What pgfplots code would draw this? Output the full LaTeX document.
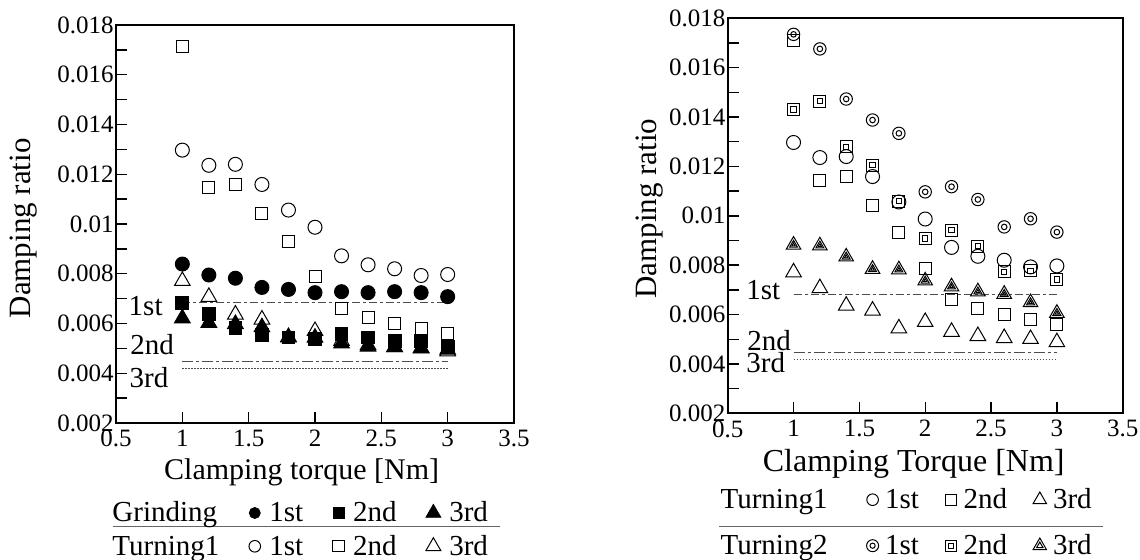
\documentclass[border=0pt]{standalone}
\usepackage{fontspec}
\setmainfont{Liberation Serif}
\usepackage{pgfplots}
\usepackage{pgfplotstable}
\pgfplotsset{compat=1.18}

% damping ratio vs clamping torque
\pgfplotstableread{
x   g1      g2      g3
1.0 0.00839 0.00684 0.00621
1.2 0.00795 0.00638 0.00603
1.4 0.00782 0.00583 0.00598
1.6 0.00745 0.00554 0.00585
1.8 0.00737 0.00544 0.00545
2.0 0.00724 0.00538 0.00543
2.2 0.00728 0.00558 0.00520
2.4 0.00724 0.00544 0.00507
2.6 0.00728 0.00531 0.00505
2.8 0.00724 0.00531 0.00500
3.0 0.00708 0.00507 0.00495
}\grinding

\pgfplotstableread{
x   t1      t2      t3
1.0 0.01297 0.01712 0.00771
1.2 0.01236 0.01145 0.00707
1.4 0.01240 0.01160 0.00636
1.6 0.01159 0.01043 0.00616
1.8 0.01056 0.00931 0.00544
2.0 0.00987 0.00787 0.00570
2.2 0.00872 0.00660 0.00530
2.4 0.00836 0.00624 0.00513
2.6 0.00820 0.00602 0.00505
2.8 0.00793 0.00578 0.00501
3.0 0.00797 0.00561 0.00488
}\turnone

\pgfplotstableread{
x   s1      s2      s3
1.0 0.01735 0.01431 0.00882
1.2 0.01676 0.01465 0.00879
1.4 0.01473 0.01280 0.00834
1.6 0.01388 0.01205 0.00784
1.8 0.01334 0.01059 0.00782
2.0 0.01097 0.00908 0.00737
2.2 0.01118 0.00942 0.00713
2.4 0.01066 0.00877 0.00693
2.6 0.00955 0.00773 0.00683
2.8 0.00988 0.00777 0.00649
3.0 0.00934 0.00742 0.00606
}\turntwo

\newcommand{\lblfont}{\fontsize{14.5}{17}\selectfont}

\pgfplotsset{
  damp/.style={
    scale only axis, anchor=south west, clip=false,
    xmin=0.5, xmax=3.5, ymin=0.002, ymax=0.018,
    xtick={0.5,1,1.5,2,2.5,3,3.5},
    ytick={0.002,0.004,0.006,0.008,0.01,0.012,0.014,0.016,0.018},
    minor y tick num=1,
    tick pos=left, tick align=inside,
    major tick length=5.5pt, minor tick length=5.5pt,
    every tick/.style={black, line width=0.7pt},
    axis line style={line width=1pt},
    scaled y ticks=false,
    /pgf/number format/assume math mode=true,
    yticklabel style={/pgf/number format/fixed, /pgf/number format/precision=3, inner xsep=1pt},
    tick label style={font=\fontsize{12.5}{14}\selectfont},
    legend columns=4, legend cell align=left,
  },
  pts/.style={only marks, black, line width=0.5pt, forget plot},
  ref1/.style={forget plot, black!70, line width=0.5pt, dash pattern=on 4pt off 1.5pt on 1.5pt off 1.5pt},
  ref2/.style={forget plot, black!70, line width=0.5pt, dash pattern=on 5.5pt off 1.5pt on 1.5pt off 1.5pt},
  ref3/.style={forget plot, black!70, line width=0.5pt, dash pattern=on 0.75pt off 0.75pt},
  legimg/.style={legend image code/.code={%
    \path[draw=none, fill=none] (-3pt,-1pt) rectangle (3pt,1pt);
    \draw plot[only marks] coordinates {(0pt,0pt)};}},
  legdbl/.style 2 args={legend image code/.code={%
    \path[draw=none, fill=none] (-3pt,-1pt) rectangle (3pt,1pt);
    \draw plot[only marks, mark size=#1] coordinates {(0pt,0pt)};
    \draw plot[only marks, mark size=#2] coordinates {(0pt,0pt)};}},
}

\begin{document}
\begin{tikzpicture}
\useasboundingbox (0,0) rectangle (570pt,279.5pt);

% left: grinding vs turning1
\begin{axis}[damp, at={(58pt,68pt)}, width=199pt, height=199pt,
  xlabel={Clamping torque [Nm]},
  every axis x label/.style={at={(axis description cs:0.4666,-0.1415)}, anchor=base, font=\fontsize{15}{18}\selectfont},
  ylabel={Damping ratio},
  every axis y label/.style={at={(axis description cs:-0.231,0.489)}, rotate=90, anchor=center, font=\fontsize{15.5}{18}\selectfont},
  legend style={draw=none, fill=none, inner sep=0pt, outer sep=0pt,
    at={(-0.0302,-0.1934)}, anchor=north west, row sep=3.65pt, font=\lblfont,
    nodes={inner sep=0pt, text height=11pt, text depth=2pt},
    /tikz/every odd column/.append style={column sep=4.25pt},
    /tikz/every even column/.append style={column sep=14.7pt}},
]
\addplot[pts, mark=o, mark size=3.5pt] table[x=x, y=t1] {\turnone};
\addplot[pts, mark=square, mark size=3pt] table[x=x, y=t2] {\turnone};
\addplot[pts, mark=triangle, mark size=4.5pt] table[x=x, y=t3] {\turnone};
\addplot[pts, mark=*, mark size=3.5pt] table[x=x, y=g1] {\grinding};
\addplot[pts, mark=square*, mark size=3.2pt] table[x=x, y=g2] {\grinding};
\addplot[pts, mark=triangle*, mark size=4.5pt] table[x=x, y=g3] {\grinding};

\addplot[ref1] coordinates {(1,0.00684) (3,0.00684)};
\addplot[ref2] coordinates {(1,0.00446) (3,0.00446)};
\addplot[ref3] coordinates {(1,0.00419) (3,0.00419)};

\node[anchor=base west, inner sep=0pt, font=\lblfont] at (axis cs:0.593,0.00634) {1st};
\node[anchor=base west, inner sep=0pt, font=\lblfont] at (axis cs:0.605,0.00477) {2nd};
\node[anchor=base west, inner sep=0pt, font=\lblfont] at (axis cs:0.600,0.00341) {3rd};

\draw[black!60, line width=0.7pt] (axis description cs:-0.0075,-0.2595) -- (axis description cs:0.9648,-0.2595);

\addlegendimage{empty legend}\addlegendentry{Grinding}
\addlegendimage{only marks, black, mark=*, mark size=2.75pt, legimg}\addlegendentry{1st}
\addlegendimage{only marks, black, mark=square*, mark size=2.8pt, legimg}\addlegendentry{2nd}
\addlegendimage{only marks, black, mark=triangle*, mark size=4.3pt, legimg}\addlegendentry{3rd}
\addlegendimage{empty legend}\addlegendentry{Turning1}
\addlegendimage{only marks, black, line width=0.5pt, mark=o, mark size=2.9pt, legimg}\addlegendentry{1st}
\addlegendimage{only marks, black, line width=0.5pt, mark=square, mark size=2.8pt, legimg}\addlegendentry{2nd}
\addlegendimage{only marks, black, line width=0.5pt, mark=triangle, mark size=4.3pt, legimg}\addlegendentry{3rd}
\end{axis}

% right: turning1 vs turning2
\begin{axis}[damp, at={(363.85pt,72.85pt)}, width=197.5pt, height=197.5pt,
  xlabel={Clamping Torque [Nm]},
  every axis x label/.style={at={(axis description cs:0.471,-0.1478)}, anchor=base, font=\fontsize{16}{19}\selectfont},
  ylabel={Damping ratio},
  every axis y label/.style={at={(axis description cs:-0.197,0.518)}, rotate=90, anchor=center, font=\fontsize{15.5}{18}\selectfont},
  legend style={draw=none, fill=none, inner sep=0pt, outer sep=0pt,
    at={(-0.0347,-0.1858)}, anchor=north west, row sep=10pt, font=\lblfont,
    nodes={inner sep=0pt, text height=11pt, text depth=2pt},
    /tikz/every odd column/.append style={column sep=3.3pt},
    /tikz/every even column/.append style={column sep=13pt}},
]
\addplot[pts, mark=o, mark size=3.5pt] table[x=x, y=t1] {\turnone};
\addplot[pts, mark=square, mark size=3pt] table[x=x, y=t2] {\turnone};
\addplot[pts, mark=triangle, mark size=4.5pt] table[x=x, y=t3] {\turnone};
\addplot[pts, mark=o, mark size=3.1pt] table[x=x, y=s1] {\turntwo};
\addplot[pts, mark=o, mark size=1.4pt] table[x=x, y=s1] {\turntwo};
\addplot[pts, mark=square, mark size=3pt] table[x=x, y=s2] {\turntwo};
\addplot[pts, mark=square, mark size=1.3pt] table[x=x, y=s2] {\turntwo};
\addplot[pts, mark=triangle, mark size=4.2pt] table[x=x, y=s3] {\turntwo};
\addplot[pts, mark=triangle, mark size=2.3pt] table[x=x, y=s3] {\turntwo};
\addplot[pts, mark=triangle, mark size=1pt] table[x=x, y=s3] {\turntwo};

\addplot[ref1] coordinates {(1,0.00683) (3,0.00683)};
\addplot[ref2] coordinates {(1,0.00446) (3,0.00446)};
\addplot[ref3] coordinates {(1,0.00419) (3,0.00419)};

\node[anchor=base west, inner sep=0pt, font=\lblfont] at (axis cs:0.639,0.00659) {1st};
\node[anchor=base west, inner sep=0pt, font=\lblfont] at (axis cs:0.647,0.00454) {2nd};
\node[anchor=base west, inner sep=0pt, font=\lblfont] at (axis cs:0.639,0.00364) {3rd};

\draw[black!60, line width=0.7pt] (axis description cs:-0.022,-0.2866) -- (axis description cs:0.9494,-0.2866);

\addlegendimage{empty legend}\addlegendentry[text width=60pt]{Turning1}
\addlegendimage{only marks, black, line width=0.5pt, mark=o, mark size=2.9pt, legimg}\addlegendentry{1st}
\addlegendimage{only marks, black, line width=0.5pt, mark=square, mark size=2.75pt, legimg}\addlegendentry{2nd}
\addlegendimage{only marks, black, line width=0.5pt, mark=triangle, mark size=3.85pt, legimg}\addlegendentry{3rd}
\addlegendimage{empty legend}\addlegendentry{Turning2}
\addlegendimage{only marks, black, line width=0.5pt, mark=o, legdbl={3pt}{1.3pt}}\addlegendentry{1st}
\addlegendimage{only marks, black, line width=0.5pt, mark=square, legdbl={2.75pt}{1.3pt}}\addlegendentry{2nd}
\addlegendimage{only marks, black, line width=0.5pt, mark=triangle, legdbl={3.85pt}{1.8pt}}\addlegendentry{3rd}
\end{axis}
\end{tikzpicture}
\end{document}
